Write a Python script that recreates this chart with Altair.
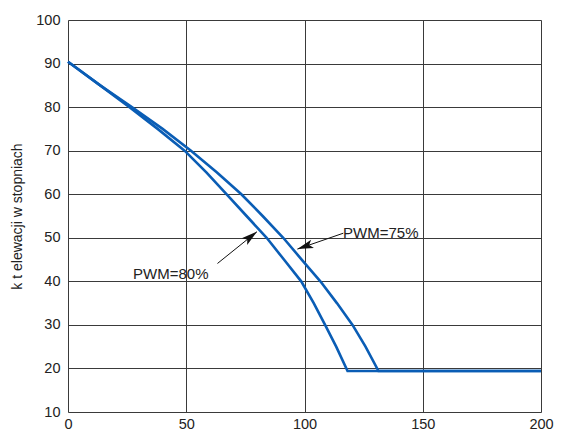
import altair as alt
import pandas as pd

# PWM = 80% curve
x80 = [0, 13.6, 26, 37.9, 49.3, 58.5, 67, 75.5, 84, 91.3, 98.6, 103.9, 108.7, 113.4, 118.2, 200]
y80 = [90.4, 85, 80, 75, 70, 65, 60, 55, 50, 45, 40, 35, 30, 25, 19.4, 19.4]
# PWM = 75% curve
x75 = [0, 13.6, 27, 40.0, 52, 63.0, 73.3, 82.3, 91, 98.8, 106.7, 113.7, 120.3, 125.8, 131.3, 200]
y75 = [90.4, 85, 80, 75, 70, 65, 60, 55, 50, 45, 40, 35, 30, 25, 19.4, 19.4]

x_ticks = [0, 50, 100, 150, 200]
y_ticks = [10, 20, 30, 40, 50, 60, 70, 80, 90, 100]

labels = ["PWM=80%", "PWM=75%"]
label_x = [27.5, 116.3]
label_y = [40.5, 50.0]
arrow_tail_x = [63.2, 116.4]
arrow_tail_y = [44.1, 51.05]
arrow_tip_x = [79.9, 97.0]
arrow_tip_y = [51.4, 47.4]
arrow_angle = [51.5, 251.0]

curves = pd.DataFrame({
    "x": x80 + x75,
    "y": y80 + y75,
    "series": ["PWM=80%"] * len(x80) + ["PWM=75%"] * len(x75),
    "order": list(range(len(x80))) + list(range(len(x75))),
})

shafts = pd.DataFrame({
    "x": arrow_tail_x + arrow_tip_x,
    "y": arrow_tail_y + arrow_tip_y,
    "arrow": labels + labels,
    "order": [0, 0, 1, 1],
})

heads = pd.DataFrame({"x": arrow_tip_x, "y": arrow_tip_y, "angle": arrow_angle})
texts = pd.DataFrame({"x": label_x, "y": label_y, "label": labels})

FONT = "Liberation Sans"
xs = alt.Scale(domain=[0, 200], nice=False, zero=False)
ys = alt.Scale(domain=[10, 100], nice=False, zero=False)

lines = alt.Chart(curves).mark_line(color="#0a5db5", strokeWidth=2.6).encode(
    x=alt.X("x:Q", scale=xs, axis=alt.Axis(
        values=x_ticks, title=None, grid=True, gridColor="#3a3a3a", gridOpacity=1,
        gridWidth=1, ticks=False, domain=False, labelFont=FONT, labelFontSize=14.5,
        labelColor="#222222", labelPadding=5, labelFlush=False)),
    y=alt.Y("y:Q", scale=ys, axis=alt.Axis(
        values=y_ticks, title="k t elewacji w stopniach", grid=True, gridColor="#3a3a3a",
        gridOpacity=1, gridWidth=1, ticks=False, domain=False, labelFont=FONT,
        labelFontSize=14.5, labelColor="#222222", labelPadding=8, labelFlush=False,
        titleFont=FONT, titleFontSize=14, titleFontWeight="normal", titleColor="#222222",
        titleAngle=270, titleX=-51, titleY=196, titleAlign="center", titleBaseline="middle")),
    detail="series:N",
    order="order:Q",
)

shaft_layer = alt.Chart(shafts).mark_line(color="#111111", strokeWidth=1).encode(
    x=alt.X("x:Q", scale=xs), y=alt.Y("y:Q", scale=ys), detail="arrow:N", order="order:Q"
)

head_layer = alt.Chart(heads).mark_point(
    shape="M0,0 L0.55,2 L0,1.55 L-0.55,2 Z", filled=True, color="#111111", opacity=1,
    size=256, strokeWidth=0,
).encode(
    x=alt.X("x:Q", scale=xs), y=alt.Y("y:Q", scale=ys),
    angle=alt.Angle("angle:Q", scale=None),
)

text_layer = alt.Chart(texts).mark_text(
    align="left", baseline="alphabetic", font=FONT, fontSize=15, color="#222222"
).encode(x=alt.X("x:Q", scale=xs), y=alt.Y("y:Q", scale=ys), text="label:N")

chart = alt.layer(lines, shaft_layer, head_layer, text_layer).properties(
    width=473, height=392,
    autosize=alt.AutoSizeParams(type="none"),
    padding={"left": 60, "top": 12, "right": 14, "bottom": 21},
).configure_view(stroke="#111111", strokeWidth=1.6).configure(background="white")

chart.save("out.html", embed_options={"renderer": "svg", "actions": False})
